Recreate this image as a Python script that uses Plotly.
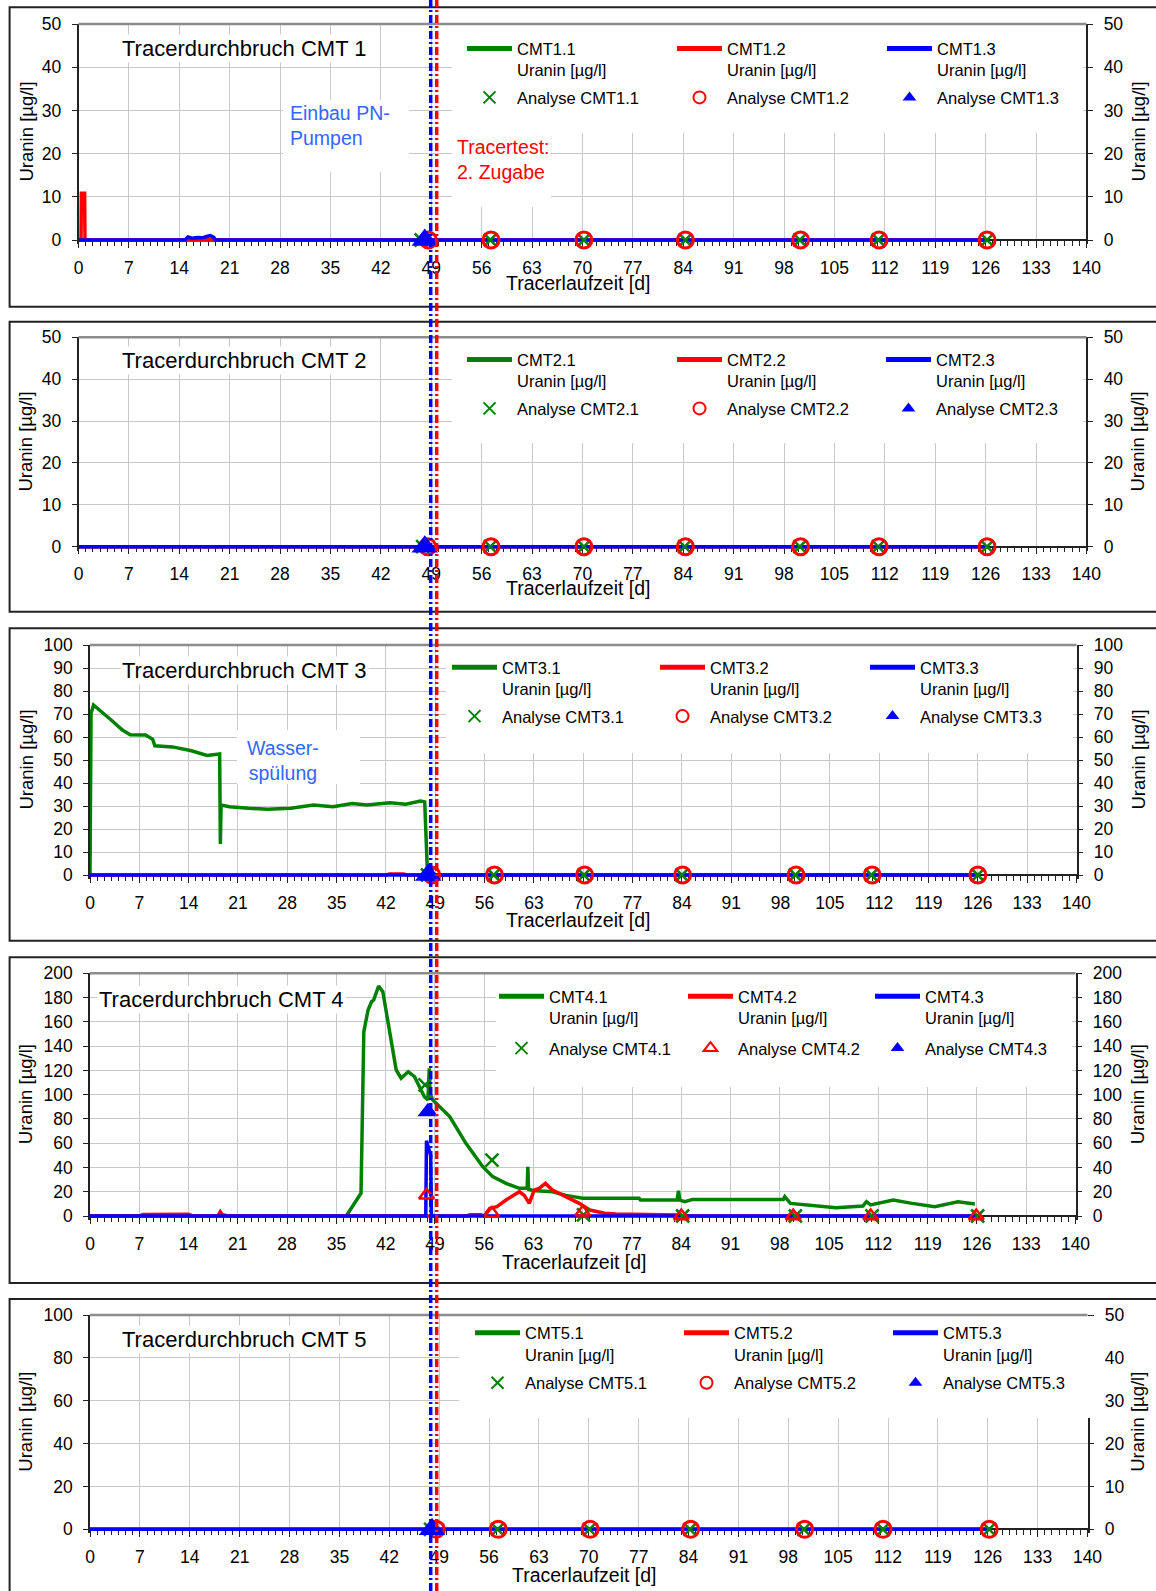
import plotly.graph_objects as go

W, H = 1156, 1591
FONT = "Liberation Sans"
GREEN, RED, BLUE = "#008000", "#FF0000", "#0000FF"
NOTE_BLUE = "#3366FF"

# ---------------- data (day, Uranin µg/l) ----------------
# CMT 1
cmt11_day = [0, 126.3]
cmt11_val = [0, 0]
cmt12_day = [0, 0.35, 0.4, 0.85, 0.9, 126.3]
cmt12_val = [0, 0, 10.8, 10.8, 0, 0]
cmt13_day = [0, 14.8, 15.2, 15.8, 16.5, 17.2, 17.8, 18.3, 18.8, 19.0, 126.3]
cmt13_val = [0, 0, 0.7, 0.4, 0.6, 0.5, 0.8, 1.0, 0.6, 0, 0]
a11_day = [47.6, 57.2, 70.2, 84.3, 100.2, 111.1, 126.2]
a11_val = [0, 0, 0, 0, 0, 0, 0]
a12_day = [48.6, 57.3, 70.2, 84.3, 100.3, 111.2, 126.2]
a12_val = [0, 0, 0, 0, 0, 0, 0]
a13_day = [48.1]
a13_val = [0]

# CMT 2
cmt21_day = [0, 126.3]
cmt21_val = [0, 0]
cmt22_day = [0, 126.3]
cmt22_val = [0, 0]
cmt23_day = [0, 126.3]
cmt23_val = [0, 0]
a21_day = [47.8, 57.2, 70.2, 84.2, 100.2, 111.1, 126.2]
a21_val = [0, 0, 0, 0, 0, 0, 0]
a22_day = [48.5, 57.3, 70.2, 84.3, 100.3, 111.2, 126.2]
a22_val = [0, 0, 0, 0, 0, 0, 0]
a23_day = [48.1]
a23_val = [0]

# CMT 3
cmt31_day = [0, 0.15, 0.5, 1.4, 3.0, 4.6, 5.7, 7.9, 8.9, 9.2, 11.7, 14.4, 16.6, 18.4,
             18.5, 18.6, 19.8, 22.5, 25.2, 28.5, 31.7, 34.5, 37.2, 39.3, 42.6, 44.8,
             46.9, 47.5, 47.9, 126.3]
cmt31_val = [0, 70.3, 73.9, 71.7, 67.4, 63.0, 61.0, 60.9, 59.0, 56.2, 55.7, 54.0, 52.0, 52.6,
             13.5, 30.4, 29.7, 29.0, 28.6, 29.0, 30.4, 29.7, 31.1, 30.4, 31.4, 30.8,
             32.2, 31.8, 0, 0]
cmt32_day = [0, 42.0, 42.5, 44.5, 45.0, 126.3]
cmt32_val = [0, 0, 0.4, 0.4, 0, 0]
cmt33_day = [0, 126.3]
cmt33_val = [0, 0]
a31_day = [47.9, 57.3, 70.1, 84.0, 100.1, 110.9, 126.0]
a31_val = [0, 0, 0, 0, 0, 0, 0]
a32_day = [48.5, 57.4, 70.2, 84.1, 100.2, 111.0, 126.0]
a32_val = [0, 0, 0, 0, 0, 0, 0]
a33_day = [48.0]
a33_val = [0]

# CMT 4
cmt41_day = [0, 36.4, 38.5, 38.9, 39.5, 40.0, 40.3, 41.0, 41.6, 42.55, 43.5, 44.2, 45.2,
             46.1, 47.5, 48.0, 48.2, 48.3, 48.7, 51.1, 53.4, 55.8, 57.2, 59.1, 61.0, 62.1,
             62.2, 62.3, 62.9, 65.7, 67.6, 70.0, 78.0, 78.2, 83.4, 83.6, 83.8, 84.5, 85.6,
             98.5, 98.7, 99.5, 104.4, 106.0, 109.8, 110.3, 110.9, 114.1, 116.8, 120.0,
             123.3, 125.7]
cmt41_val = [0, 0, 18.7, 151.9, 169.8, 176.6, 178.0, 189.5, 184.8, 150.5, 120.3, 113.5, 118.9,
             114.8, 98.3, 95.6, 121.7, 101.0, 95.6, 81.9, 59.9, 40.6, 32.4, 26.9, 22.8, 22.8,
             40.6, 22.0, 21.0, 20.0, 17.0, 14.6, 14.6, 13.2, 13.2, 20.9, 13.0, 11.8, 13.7,
             13.7, 15.9, 10.4, 7.7, 6.9, 8.2, 11.8, 9.1, 13.2, 10.4, 7.7,
             11.8, 9.9]
cmt42_day = [0, 7.0, 7.5, 14.0, 14.5, 18.2, 18.5, 18.8, 19.5, 47.5, 48.0, 53.5, 54.0, 55.5,
             56.0, 56.8, 57.8, 59.1, 61.0, 61.7, 62.4, 63.1, 63.8, 64.7, 65.7, 67.6, 69.5,
             71.0, 73.1, 74.7, 83.4, 84.0, 126.3]
cmt42_val = [0, 0, 1.2, 1.4, 0.3, 0.5, 3.5, 1.0, 0.3, 0.3, 0, 0, 1.0, 1.0,
             0, 6.3, 7.7, 13.2, 20.0, 17.0, 10.4, 21.4, 22.8, 26.9, 21.4, 15.9, 10.4,
             4.9, 2.2, 1.6, 0.8, 0, 0]
cmt43_day = [0, 47.7, 47.8, 48.0, 48.2, 48.4, 48.5, 126.0]
cmt43_val = [0, 0, 62.0, 58.0, 55.0, 50.0, 0, 0]
a41_day = [47.6, 57.1, 70.1, 84.2, 100.2, 111.1, 126.1]
a41_val = [108, 46, 1, 0, 0, 0, 0]
a42_day = [47.8, 57.1, 70.0, 84.0, 99.9, 110.9, 125.9]
a42_val = [17, 2, 3, 0, 0, 0, 0]
a43_day = [48.0]
a43_val = [86]

# CMT 5
cmt51_day = [0, 126.3]
cmt51_val = [0, 0]
cmt52_day = [0, 126.3]
cmt52_val = [0, 0]
cmt53_day = [0, 126.3]
cmt53_val = [0, 0]
a51_day = [47.8, 57.2, 70.1, 84.2, 100.2, 111.3, 126.2]
a51_val = [0, 0, 0, 0, 0, 0, 0]
a52_day = [48.6, 57.3, 70.2, 84.3, 100.3, 111.3, 126.2]
a52_val = [0, 0, 0, 0, 0, 0, 0]
a53_day = [48.0]
a53_val = [0]

x_ticks = [0, 7, 14, 21, 28, 35, 42, 49, 56, 63, 70, 77, 84, 91, 98, 105, 112, 119, 126, 133, 140]

series = {
    1: ([(cmt11_day, cmt11_val), (cmt12_day, cmt12_val), (cmt13_day, cmt13_val)],
        [(a11_day, a11_val), (a12_day, a12_val), (a13_day, a13_val)]),
    2: ([(cmt21_day, cmt21_val), (cmt22_day, cmt22_val), (cmt23_day, cmt23_val)],
        [(a21_day, a21_val), (a22_day, a22_val), (a23_day, a23_val)]),
    3: ([(cmt31_day, cmt31_val), (cmt32_day, cmt32_val), (cmt33_day, cmt33_val)],
        [(a31_day, a31_val), (a32_day, a32_val), (a33_day, a33_val)]),
    4: ([(cmt41_day, cmt41_val), (cmt42_day, cmt42_val), (cmt43_day, cmt43_val)],
        [(a41_day, a41_val), (a42_day, a42_val), (a43_day, a43_val)]),
    5: ([(cmt51_day, cmt51_val), (cmt52_day, cmt52_val), (cmt53_day, cmt53_val)],
        [(a51_day, a51_val), (a52_day, a52_val), (a53_day, a53_val)]),
}

# ---------------- layout geometry (pixels) ----------------
GEOM = {
    1: dict(x0=78.5, x1=1086.4, top=24.0, zero=240.0, ymax=50, dt=10, rmax=50, rdt=10,
            btop=7.3, bbot=306.7, title=(120, 48.3), xt=(578, 283.3),
            leg_x=(467, 677, 887), leg_y=49, gap=3,
            white=[(452, 25, 1083, 133), (283, 100, 409, 172), (452, 133, 551, 207)]),
    2: dict(x0=78.5, x1=1086.4, top=337.3, zero=546.7, ymax=50, dt=10, rmax=50, rdt=10,
            btop=321.7, bbot=611.7, title=(120, 360), xt=(578, 588.3),
            leg_x=(467, 677, 886), leg_y=360, gap=3,
            white=[(452, 338, 1083, 443)]),
    3: dict(x0=90, x1=1076.5, top=645, zero=875, ymax=100, dt=10, rmax=100, rdt=10,
            btop=628.3, bbot=940.7, title=(120, 670), xt=(578, 920),
            leg_x=(452, 660, 870), leg_y=667.7, gap=3,
            white=[(446, 646, 1073, 753), (237, 730, 360, 784)]),
    4: dict(x0=90, x1=1075.5, top=973.3, zero=1216, ymax=200, dt=20, rmax=200, rdt=20,
            btop=957.3, bbot=1283, title=(97, 999.3), xt=(574, 1261.7),
            leg_x=(499, 688, 875), leg_y=996.7, gap=6,
            white=[(496, 974, 1072, 1087)]),
    5: dict(x0=90, x1=1087.5, top=1315, zero=1529.3, ymax=100, dt=20, rmax=50, rdt=10,
            btop=1299, bbot=1600, title=(120, 1339.3), xt=(584, 1575),
            leg_x=(475, 684, 893), leg_y=1333.3, gap=4,
            white=[(459, 1316, 1096, 1418)]),
}

TICK_FS = 17.5
LEG_FS = 16.5


def px_x(x):
    return x / W


def px_y(y):
    return 1 - y / H


LINE_COLORS = [GREEN, RED, BLUE]
fig = go.Figure()

for i in range(1, 6):
    g = GEOM[i]
    xa = "x" if i == 1 else f"x{i}"
    ya = "y" if i == 1 else f"y{2 * i - 1}"
    yr = f"y{2 * i}"
    lines, marks = series[i]
    for j, (d, v) in enumerate(lines):
        n = 3 * (i - 1) + j + 1
        fig.add_trace(go.Scatter(
            x=d, y=v, mode="lines", xaxis=xa, yaxis=ya,
            line=dict(color=LINE_COLORS[j], width=3.5),
            name=f"CMT{i}.{j + 1}<br>Uranin [µg/l]",
            legend="legend" if n == 1 else f"legend{n}",
            legendgroup=f"l{i}{j}", hoverinfo="skip"))
    for j, (d, v) in enumerate(marks):
        n = 3 * (i - 1) + j + 1
        if j == 0:
            mk = dict(symbol="x-thin", size=13, color=GREEN, line=dict(width=2.5, color=GREEN))
        elif j == 1:
            if i == 4:
                mk = dict(symbol="triangle-up-open", size=13, color=RED, line=dict(width=2.5, color=RED))
            else:
                mk = dict(symbol="circle-open", size=16, color=RED, line=dict(width=3, color=RED))
        else:
            mk = dict(symbol="triangle-up", size=18 if i == 4 else 23, color=BLUE, line=dict(width=0))
        fig.add_trace(go.Scatter(
            x=d, y=v, mode="markers", xaxis=xa, yaxis=ya, marker=mk, cliponaxis=False,
            name=f"Analyse CMT{i}.{j + 1}",
            legend="legend" if n == 1 else f"legend{n}",
            legendgroup=f"m{i}{j}", hoverinfo="skip"))
    # invisible companion so the secondary (right) axis is rendered
    d3, v3 = lines[2]
    fig.add_trace(go.Scatter(x=d3, y=v3, mode="lines", xaxis=xa, yaxis=yr,
                             line=dict(width=0, color="rgba(0,0,0,0)"),
                             showlegend=False, hoverinfo="skip"))

layout = dict(
    template="none",
    width=W, height=H, autosize=False,
    margin=dict(l=0, r=0, t=0, b=0, pad=0, autoexpand=False),
    paper_bgcolor="white", plot_bgcolor="white",
    font=dict(family=FONT, size=16, color="black"), showlegend=True,
)

AX = "#222222"
GRID = "#c8c8c8"
shapes = []
annotations = []

for i in range(1, 6):
    g = GEOM[i]
    xk = "xaxis" if i == 1 else f"xaxis{i}"
    yl, yr = 2 * i - 1, 2 * i
    ylk = "yaxis" if yl == 1 else f"yaxis{yl}"
    yrk = f"yaxis{yr}"
    xa = "x" if i == 1 else f"x{i}"
    ya = "y" if yl == 1 else f"y{yl}"
    span = g["zero"] - g["top"]
    pad = 4.0
    layout[xk] = dict(
        domain=[px_x(g["x0"]), px_x(g["x1"])], range=[0, 140], anchor="free",
        position=px_y(g["zero"]), tickmode="array", tickvals=x_ticks,
        ticktext=[str(t) for t in x_ticks], automargin=False, layer="below traces",
        ticks="outside", ticklen=7, tickwidth=1.3, tickcolor=AX,
        showline=True, linecolor=AX, linewidth=1.5,
        showgrid=True, gridcolor=GRID, gridwidth=1, zeroline=False,
        tickfont=dict(family=FONT, size=TICK_FS, color="black"), ticklabelstandoff=5,
        minor=dict(dtick=1, tick0=0, ticks="outside", ticklen=5, tickwidth=1,
                   tickcolor=AX, showgrid=False),
    )
    layout[ylk] = dict(
        domain=[px_y(g["zero"] + pad), px_y(g["top"])],
        range=[-pad * g["ymax"] / span, g["ymax"]], anchor=xa, automargin=False,
        tickmode="linear", tick0=0, dtick=g["dt"],
        ticks="outside", ticklen=5, tickwidth=1.3, tickcolor=AX,
        showline=True, linecolor=AX, linewidth=1.5,
        showgrid=True, gridcolor=GRID, gridwidth=1, zeroline=False,
        tickfont=dict(family=FONT, size=TICK_FS, color="black"), ticklabelstandoff=7,
    )
    layout[yrk] = dict(
        overlaying=ya, side="right", anchor=xa, automargin=False,
        range=[-pad * g["rmax"] / span, g["rmax"]],
        tickmode="linear", tick0=0, dtick=g["rdt"],
        ticks="outside", ticklen=5, tickwidth=1.3, tickcolor=AX,
        showline=True, linecolor=AX, linewidth=1.5,
        showgrid=False, zeroline=False,
        tickfont=dict(family=FONT, size=TICK_FS, color="black"), ticklabelstandoff=7,
    )
    # legends: one per column
    top_off = 6.5 + 0.68 * LEG_FS
    for j in range(3):
        n = 3 * (i - 1) + j + 1
        lk = "legend" if n == 1 else f"legend{n}"
        layout[lk] = dict(
            x=px_x(g["leg_x"][j] - 5), y=px_y(g["leg_y"] - top_off),
            xanchor="left", yanchor="top", orientation="v",
            bgcolor="rgba(0,0,0,0)", borderwidth=0,
            font=dict(family=FONT, size=LEG_FS, color="black"),
            itemwidth=45, valign="top", traceorder="grouped",
            tracegroupgap=g["gap"], itemsizing="constant",
        )
    # panel frame
    shapes.append(dict(type="rect", xref="paper", yref="paper",
                       x0=px_x(9.6), x1=px_x(1162), y0=px_y(g["btop"]), y1=px_y(g["bbot"]),
                       line=dict(color=AX, width=2), fillcolor="rgba(0,0,0,0)", layer="above"))
    # white boxes behind legend / notes
    for (bx0, by0, bx1, by1) in g["white"]:
        shapes.append(dict(type="rect", xref="paper", yref="paper",
                           x0=px_x(bx0), x1=px_x(bx1), y0=px_y(by0), y1=px_y(by1),
                           line=dict(width=0), fillcolor="white", layer="above"))
    # grey top edge of plot area
    shapes.append(dict(type="line", xref="paper", yref="paper",
                       x0=px_x(g["x0"]), x1=px_x(g["x1"]), y0=px_y(g["top"]), y1=px_y(g["top"]),
                       line=dict(color="#8c8c8c", width=2.5), layer="above"))
    # title
    annotations.append(dict(xref="paper", yref="paper", x=px_x(g["title"][0]), y=px_y(g["title"][1]),
                            xanchor="left", yanchor="middle", showarrow=False,
                            text=f"Tracerdurchbruch CMT {i}", bgcolor="white",
                            font=dict(family=FONT, size=22, color="black")))
    # x title
    annotations.append(dict(xref="paper", yref="paper", x=px_x(g["xt"][0]), y=px_y(g["xt"][1]),
                            xanchor="center", yanchor="middle", showarrow=False,
                            text="Tracerlaufzeit [d]",
                            font=dict(family=FONT, size=19.5, color="black")))
    ymid = (g["top"] + g["zero"]) / 2
    for xpos in (25.5, 1137.6):
        annotations.append(dict(xref="paper", yref="paper", x=px_x(xpos), y=px_y(ymid),
                                xanchor="center", yanchor="middle", showarrow=False,
                                textangle=-90, text="Uranin [µg/l]",
                                font=dict(family=FONT, size=18.5, color="black")))

# notes
annotations.append(dict(xref="paper", yref="paper", x=px_x(288), y=px_y(125),
                        xanchor="left", yanchor="middle", align="left", showarrow=False,
                        text="Einbau PN-<br>Pumpen",
                        font=dict(family=FONT, size=19.5, color=NOTE_BLUE)))
annotations.append(dict(xref="paper", yref="paper", x=px_x(455), y=px_y(160),
                        xanchor="left", yanchor="middle", align="left", showarrow=False,
                        text="Tracertest:<br>2. Zugabe",
                        font=dict(family=FONT, size=19.5, color=RED)))
annotations.append(dict(xref="paper", yref="paper", x=px_x(283), y=px_y(760),
                        xanchor="center", yanchor="middle", align="center", showarrow=False,
                        text="Wasser-<br>spülung",
                        font=dict(family=FONT, size=19.5, color=NOTE_BLUE)))

# figure-wide event lines
shapes.append(dict(type="line", xref="paper", yref="paper", x0=px_x(430.7), x1=px_x(430.7),
                   y0=0, y1=1, line=dict(color=BLUE, width=3.5, dash="8px,3px,2px,3px"),
                   layer="above"))
shapes.append(dict(type="line", xref="paper", yref="paper", x0=px_x(436.7), x1=px_x(436.7),
                   y0=0, y1=1, line=dict(color=RED, width=3.5, dash="8px,3px,2px,3px"),
                   layer="above"))

layout["shapes"] = shapes
layout["annotations"] = annotations
fig.update_layout(**layout)
fig.write_html("out.html", config={"displayModeBar": False},
               post_script="document.body.style.margin='0px';")
